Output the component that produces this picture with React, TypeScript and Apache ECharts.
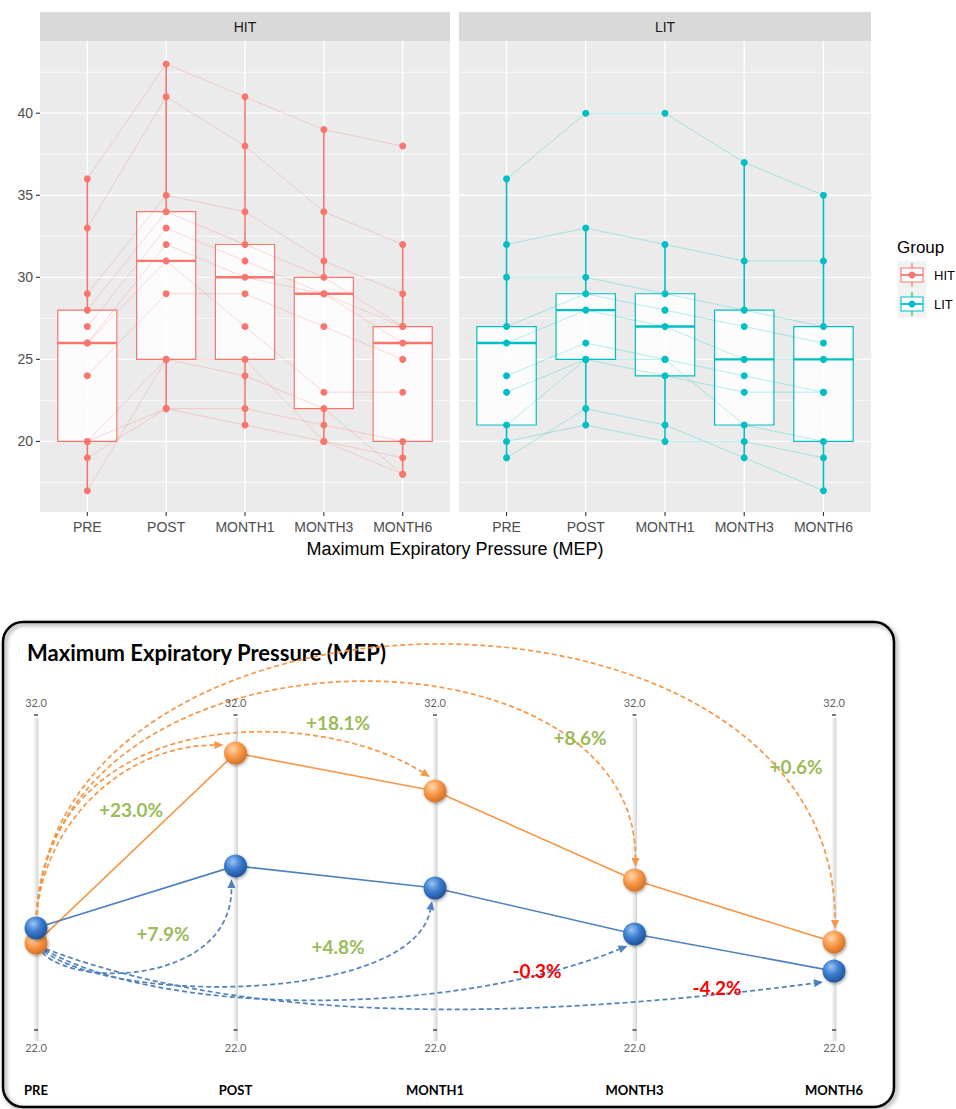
import React, { useEffect, useRef } from 'react';
import * as echarts from 'echarts';

// ---------- data ----------
const timepoints = ['PRE', 'POST', 'MONTH1', 'MONTH3', 'MONTH6'];
const groupNames = ['HIT', 'LIT'];

// individual subject trajectories (MEP at PRE, POST, MONTH1, MONTH3, MONTH6)
const hitSubjects: number[][] = [
  [36, 43, 41, 39, 38],
  [33, 41, 38, 34, 32],
  [29, 35, 34, 31, 29],
  [28, 34, 32, 30, 27],
  [27, 33, 31, 29, 27],
  [26, 32, 30, 29, 26],
  [24, 29, 29, 27, 25],
  [26, 31, 27, 23, 23],
  [20, 22, 22, 21, 20],
  [19, 22, 21, 20, 19],
  [17, 25, 24, 22, 18],
  [20, 25, 25, 20, 18],
];
const litSubjects: number[][] = [
  [36, 40, 40, 37, 35],
  [32, 33, 32, 31, 31],
  [30, 30, 29, 28, 27],
  [27, 29, 28, 27, 26],
  [26, 28, 27, 25, 25],
  [24, 26, 25, 24, 23],
  [23, 25, 24, 23, 23],
  [21, 25, 25, 21, 20],
  [20, 21, 20, 20, 19],
  [19, 22, 21, 19, 17],
];

// box stats: [lower whisker, Q1, median, Q3, upper whisker]
const hitBoxStats: number[][] = [
  [17, 20, 26, 28, 36],
  [22, 25, 31, 34, 43],
  [21, 25, 30, 32, 41],
  [20, 22, 29, 30, 39],
  [18, 20, 26, 27, 32],
];
const litBoxStats: number[][] = [
  [19, 21, 26, 27, 36],
  [21, 25, 28, 29, 33],
  [20, 24, 27, 29, 32],
  [19, 21, 25, 28, 37],
  [17, 20, 25, 27, 35],
];

const yMajor = [20, 25, 30, 35, 40];
const yMinor = [17.5, 22.5, 27.5, 32.5, 37.5, 42.5];
const topRange = [15.7, 44.4];

// group means (bottom panel)
const hitMeans = [24.76, 30.79, 29.59, 26.76, 24.79];
const litMeans = [25.24, 27.21, 26.51, 25.05, 23.87];
const hitChange = ['+23.0%', '+18.1%', '+8.6%', '+0.6%'];
const litChange = ['+7.9%', '+4.8%', '-0.3%', '-4.2%'];
const meanAxisRange = [22, 32];

// ---------- styles ----------
const HIT_COL = '#F8766D';
const LIT_COL = '#00BFC4';
const ORANGE = '#F79646';
const BLUE = '#4F81BD';
const GREEN = '#9BBB59';
const RED = '#FF0000';
const TOP_FONT = '"Liberation Sans", Arial, sans-serif';
const BOT_FONT = 'Lato, "Open Sans", sans-serif';

const changeLabelPos = {
  hit: [[131, 809], [338, 722], [580, 737], [796, 766]],
  lit: [[163, 933], [338, 946], [537, 970], [717, 987]],
};

const arcLayout = {
  hit: {
    start: [0, -12],
    ends: [[-12, -8], [-5, -14], [1, -13], [1, -13]],
    lift: [0, 74, 256, 379],
    a2: [0, 0.3, 0, 0],
  },
  lit: {
    start: [2, 18],
    ends: [[-4, 13], [-3, 13], [-7, 12], [-11, 11]],
    bend: [24, 39, 54, 26],
    a1: [0.1, 0.15, 0.2, 0.25],
    a2: [0, 0.05, 0.3, 0.4],
  },
};

function gridSeries(gi: number, withYTicks: boolean) {
  const data: number[][] = [];
  yMajor.forEach((v) => data.push([0, v]));
  yMinor.forEach((v) => data.push([1, v]));
  timepoints.forEach((_, i) => data.push([2, i]));
  if (withYTicks) yMajor.forEach((v) => data.push([3, v]));
  timepoints.forEach((_, i) => data.push([4, i]));
  return {
    type: 'custom',
    xAxisIndex: gi,
    yAxisIndex: gi,
    silent: true,
    clip: false,
    z: 1,
    data,
    renderItem: (params: any, api: any) => {
      const cs = params.coordSys;
      const k = api.value(0);
      const v = api.value(1);
      if (k === 0 || k === 1) {
        const y = api.coord([0, v])[1];
        return { type: 'line', shape: { x1: cs.x, y1: y, x2: cs.x + cs.width, y2: y }, style: { stroke: '#FFFFFF', lineWidth: k === 0 ? 1.3 : 0.7 } };
      }
      if (k === 2) {
        const x = api.coord([v, 20])[0];
        return { type: 'line', shape: { x1: x, y1: cs.y, x2: x, y2: cs.y + cs.height }, style: { stroke: '#FFFFFF', lineWidth: 1.3 } };
      }
      if (k === 3) {
        const y = api.coord([0, v])[1];
        return { type: 'line', shape: { x1: cs.x - 4, y1: y, x2: cs.x, y2: y }, style: { stroke: '#333333', lineWidth: 1.1 } };
      }
      const x = api.coord([v, 20])[0];
      return { type: 'line', shape: { x1: x, y1: cs.y + cs.height, x2: x, y2: cs.y + cs.height + 4 }, style: { stroke: '#333333', lineWidth: 1.1 } };
    },
  };
}

function boxSeries(gi: number, stats: number[][], color: string) {
  return {
    type: 'custom',
    xAxisIndex: gi,
    yAxisIndex: gi,
    silent: true,
    z: 3,
    data: stats.map((s, i) => [i, ...s]),
    encode: { x: 0, y: [1, 2, 3, 4, 5] },
    renderItem: (params: any, api: any) => {
      const x = api.value(0);
      const c = [1, 2, 3, 4, 5].map((d) => api.coord([x, api.value(d)]));
      const px = c[0][0];
      const half = api.size([0.75, 0])[0] / 2;
      return {
        type: 'group',
        children: [
          { type: 'line', shape: { x1: px, y1: c[0][1], x2: px, y2: c[1][1] }, style: { stroke: color, lineWidth: 1.6 } },
          { type: 'line', shape: { x1: px, y1: c[3][1], x2: px, y2: c[4][1] }, style: { stroke: color, lineWidth: 1.6 } },
          {
            type: 'rect',
            shape: { x: px - half, y: c[3][1], width: half * 2, height: c[1][1] - c[3][1] },
            style: { fill: 'rgba(255,255,255,0.85)', stroke: color, lineWidth: 1.2 },
          },
          { type: 'line', shape: { x1: px - half, y1: c[2][1], x2: px + half, y2: c[2][1] }, style: { stroke: color, lineWidth: 2.4 } },
        ],
      };
    },
  };
}

function subjectLines(gi: number, subjects: number[][], color: string) {
  return subjects.map((s) => ({
    type: 'line',
    xAxisIndex: gi,
    yAxisIndex: gi,
    silent: true,
    showSymbol: false,
    symbol: 'none',
    z: 4,
    lineStyle: { color, width: 0.9, opacity: 0.32 },
    data: s.map((v, i) => [i, v]),
  }));
}

function pointSeries(gi: number, subjects: number[][], color: string) {
  return {
    type: 'scatter',
    xAxisIndex: gi,
    yAxisIndex: gi,
    silent: true,
    z: 5,
    symbolSize: 7,
    itemStyle: { color, opacity: 1 },
    data: subjects.flatMap((s) => s.map((v, i) => [i, v])),
  };
}

function topXAxis(gi: number) {
  return {
    gridIndex: gi,
    type: 'value',
    min: -0.6,
    max: 4.6,
    axisLine: { show: false },
    axisTick: { show: false },
    splitLine: { show: false },
    axisLabel: {
      customValues: [0, 1, 2, 3, 4],
      formatter: (v: number) => (Number.isInteger(v) && timepoints[v] ? timepoints[v] : ''),
      color: '#4D4D4D',
      fontSize: 14,
      fontFamily: TOP_FONT,
      margin: 8,
    },
  };
}

function topYAxis(gi: number, labels: boolean) {
  return {
    gridIndex: gi,
    type: 'value',
    min: topRange[0],
    max: topRange[1],
    axisLine: { show: false },
    axisTick: { show: false },
    splitLine: { show: false },
    axisLabel: {
      show: labels,
      customValues: yMajor,
      formatter: (v: number) => (yMajor.includes(v) ? String(v) : ''),
      color: '#4D4D4D',
      fontSize: 14,
      fontFamily: TOP_FONT,
      margin: 7,
    },
  };
}

function dotStyle(kind: 'o' | 'b') {
  const stops =
    kind === 'o'
      ? [
          { offset: 0, color: '#FFD9B0' },
          { offset: 0.45, color: '#F99A4C' },
          { offset: 1, color: '#D06A1C' },
        ]
      : [
          { offset: 0, color: '#9CC3F2' },
          { offset: 0.45, color: '#3C7ED0' },
          { offset: 1, color: '#1B4C8F' },
        ];
  return {
    color: { type: 'radial', x: 0.38, y: 0.32, r: 0.75, colorStops: stops },
    shadowBlur: 3,
    shadowColor: 'rgba(0,0,0,0.35)',
    shadowOffsetY: 1.5,
    shadowOffsetX: 1,
  };
}

function axisBarSeries() {
  return {
    type: 'custom',
    xAxisIndex: 2,
    yAxisIndex: 2,
    silent: true,
    clip: false,
    z: 1,
    data: timepoints.map((_, i) => [i, meanAxisRange[0]]),
    renderItem: (params: any, api: any) => {
      const i = api.value(0);
      const top = api.coord([i, meanAxisRange[1]]);
      const bot = api.coord([i, meanAxisRange[0]]);
      return {
        type: 'rect',
        shape: { x: top[0] - 2.5, y: top[1] + 3, width: 5, height: bot[1] - top[1] + 8 },
        style: {
          fill: {
            type: 'linear',
            x: 0,
            y: 0,
            x2: 1,
            y2: 0,
            colorStops: [
              { offset: 0, color: '#FBFBFB' },
              { offset: 0.5, color: '#E8E8E8' },
              { offset: 1, color: '#D3D3D3' },
            ],
          },
        },
      };
    },
  };
}

function arcSeries() {
  const data: number[][] = [];
  [0, 1].forEach((g) => [1, 2, 3, 4].forEach((i) => data.push([g, i])));
  return {
    type: 'custom',
    xAxisIndex: 2,
    yAxisIndex: 2,
    silent: true,
    clip: false,
    z: 4,
    data,
    renderItem: (params: any, api: any) => {
      const g = api.value(0);
      const i = api.value(1);
      const means = g === 0 ? hitMeans : litMeans;
      const a = api.coord([0, means[0]]);
      const b = api.coord([i, means[i]]);
      const L: any = g === 0 ? arcLayout.hit : arcLayout.lit;
      const s = [a[0] + L.start[0], a[1] + L.start[1]];
      const e = [b[0] + L.ends[i - 1][0], b[1] + L.ends[i - 1][1]];
      const dx = e[0] - s[0];
      let c1: number[];
      let c2: number[];
      if (g === 0) {
        if (i === 1) {
          c1 = [s[0], s[1] - 0.55 * (s[1] - e[1])];
          c2 = [e[0] - 0.55 * dx, e[1]];
        } else {
          const yc = Math.min(s[1], e[1]) - L.lift[i - 1];
          c1 = [s[0], yc];
          c2 = [e[0] - L.a2[i - 1] * dx, yc];
        }
      } else {
        const dip = Math.max(s[1], e[1]) + L.bend[i - 1];
        const yd = (8 * dip - s[1] - e[1]) / 6;
        c1 = [s[0] + L.a1[i - 1] * dx, yd];
        c2 = [e[0] - L.a2[i - 1] * dx, yd];
      }
      let ux = e[0] - c2[0];
      let uy = e[1] - c2[1];
      const len = Math.hypot(ux, uy) || 1;
      ux /= len;
      uy /= len;
      const al = 9;
      const aw = 4;
      const base = [e[0] - ux * al, e[1] - uy * al];
      const pts = [e, [base[0] - uy * aw, base[1] + ux * aw], [base[0] + uy * aw, base[1] - ux * aw]];
      const color = g === 0 ? ORANGE : BLUE;
      return {
        type: 'group',
        children: [
          {
            type: 'bezierCurve',
            shape: { x1: s[0], y1: s[1], x2: base[0], y2: base[1], cpx1: c1[0], cpy1: c1[1], cpx2: c2[0], cpy2: c2[1] },
            style: { stroke: color, lineWidth: 1.7, lineDash: [5, 3], fill: null },
          },
          { type: 'polygon', shape: { points: pts }, style: { fill: color } },
        ],
      };
    },
  };
}

function buildOption() {
  const graphic: any[] = [];
  // frame of bottom panel
  graphic.push({
    type: 'rect',
    z: -1,
    shape: { x: 3, y: 622, width: 891, height: 485, r: 20 },
    style: { fill: 'none', stroke: '#000', lineWidth: 2.5, shadowBlur: 4, shadowColor: 'rgba(0,0,0,0.45)', shadowOffsetX: 2, shadowOffsetY: 2 },
  });
  // facet strips
  [[40, 410], [459, 412]].forEach(([x, w], gi) => {
    graphic.push({ type: 'rect', shape: { x, y: 12, width: w, height: 29 }, style: { fill: '#D9D9D9' } });
    graphic.push({
      type: 'text',
      x: x + w / 2,
      y: 27,
      style: { text: groupNames[gi], font: `14px ${TOP_FONT}`, fill: '#1A1A1A', align: 'center', verticalAlign: 'middle' },
    });
  });
  // axis title
  graphic.push({
    type: 'text',
    x: 455,
    y: 549,
    style: { text: 'Maximum Expiratory Pressure (MEP)', font: `18px ${TOP_FONT}`, fill: '#000', align: 'center', verticalAlign: 'middle' },
  });
  // legend
  graphic.push({ type: 'text', x: 897, y: 247, style: { text: 'Group', font: `17px ${TOP_FONT}`, fill: '#000', verticalAlign: 'middle' } });
  graphic.push({ type: 'rect', shape: { x: 898, y: 261, width: 28, height: 57 }, style: { fill: '#F2F2F2' } });
  [HIT_COL, LIT_COL].forEach((col, gi) => {
    const cy = 275 + gi * 29;
    graphic.push({ type: 'line', shape: { x1: 912, y1: cy - 12, x2: 912, y2: cy + 12 }, style: { stroke: col, lineWidth: 1.2 } });
    graphic.push({ type: 'rect', shape: { x: 901, y: cy - 7, width: 22, height: 14 }, style: { fill: '#FFFFFF', stroke: col, lineWidth: 1.1 } });
    graphic.push({ type: 'line', shape: { x1: 901, y1: cy, x2: 923, y2: cy }, style: { stroke: col, lineWidth: 1.8 } });
    graphic.push({ type: 'circle', shape: { cx: 912, cy, r: 3.5 }, style: { fill: col } });
    graphic.push({ type: 'text', x: 934, y: cy, style: { text: groupNames[gi], font: `13px ${TOP_FONT}`, fill: '#000', verticalAlign: 'middle' } });
  });
  // bottom title
  graphic.push({
    type: 'text',
    x: 27,
    y: 652,
    style: { text: 'Maximum Expiratory Pressure (MEP)', font: `bold 22px ${BOT_FONT}`, fill: '#000', verticalAlign: 'middle' },
  });
  // change labels
  const pushChange = (t: string, x: number, y: number) =>
    graphic.push({
      type: 'text',
      x,
      y,
      z: 10,
      style: { text: t, font: `bold 19px ${BOT_FONT}`, fill: t.startsWith('-') ? RED : GREEN, align: 'center', verticalAlign: 'middle' },
    });
  hitChange.forEach((t, i) => pushChange(t, changeLabelPos.hit[i][0], changeLabelPos.hit[i][1]));
  litChange.forEach((t, i) => pushChange(t, changeLabelPos.lit[i][0], changeLabelPos.lit[i][1]));

  const endLabel = (v: number, pos: 'top' | 'bottom', dist: number) => ({
    type: 'scatter',
    xAxisIndex: 2,
    yAxisIndex: 2,
    silent: true,
    z: 6,
    symbol: 'rect',
    symbolSize: [4, 1.5],
    itemStyle: { color: '#222' },
    label: {
      show: true,
      position: pos,
      distance: dist,
      formatter: () => v.toFixed(1),
      fontSize: 11,
      fontFamily: BOT_FONT,
      color: '#333333',
    },
    data: timepoints.map((_, i) => [i, v]),
  });

  return {
    animation: false,
    textStyle: { fontFamily: TOP_FONT },
    grid: [
      { left: 40, top: 41, width: 410, height: 471, show: true, backgroundColor: '#EBEBEB', borderWidth: 0 },
      { left: 459, top: 41, width: 412, height: 471, show: true, backgroundColor: '#EBEBEB', borderWidth: 0 },
      { left: 36, top: 715, width: 798, height: 315 },
    ],
    xAxis: [
      topXAxis(0),
      topXAxis(1),
      {
        gridIndex: 2,
        type: 'value',
        min: 0,
        max: 4,
        interval: 1,
        axisLine: { show: false },
        axisTick: { show: false },
        splitLine: { show: false },
        axisLabel: {
          formatter: (v: number) => timepoints[v] ?? '',
          fontFamily: BOT_FONT,
          fontWeight: 'bold',
          fontSize: 13,
          color: '#000',
          margin: 53,
        },
      },
    ],
    yAxis: [
      topYAxis(0, true),
      topYAxis(1, false),
      { gridIndex: 2, type: 'value', min: meanAxisRange[0], max: meanAxisRange[1], show: false },
    ],
    graphic,
    series: [
      gridSeries(0, true),
      gridSeries(1, false),
      boxSeries(0, hitBoxStats, HIT_COL),
      boxSeries(1, litBoxStats, LIT_COL),
      ...subjectLines(0, hitSubjects, HIT_COL),
      ...subjectLines(1, litSubjects, LIT_COL),
      pointSeries(0, hitSubjects, HIT_COL),
      pointSeries(1, litSubjects, LIT_COL),
      axisBarSeries(),
      endLabel(meanAxisRange[1], 'top', 6),
      endLabel(meanAxisRange[0], 'bottom', 11),
      arcSeries(),
      {
        type: 'line',
        name: 'HIT mean',
        xAxisIndex: 2,
        yAxisIndex: 2,
        silent: true,
        z: 7,
        symbol: 'circle',
        symbolSize: 23,
        lineStyle: { color: ORANGE, width: 1.6 },
        itemStyle: dotStyle('o'),
        data: hitMeans.map((v, i) => [i, v]),
      },
      {
        type: 'line',
        name: 'LIT mean',
        xAxisIndex: 2,
        yAxisIndex: 2,
        silent: true,
        z: 8,
        symbol: 'circle',
        symbolSize: 23,
        lineStyle: { color: BLUE, width: 1.6 },
        itemStyle: dotStyle('b'),
        data: litMeans.map((v, i) => [i, v]),
      },
    ],
  };
}

export default function App() {
  const ref = useRef<HTMLDivElement>(null);
  useEffect(() => {
    if (!ref.current) return;
    const chart = echarts.init(ref.current, null, { renderer: 'svg' });
    chart.setOption(buildOption() as any);
    return () => chart.dispose();
  }, []);
  return <div ref={ref} style={{ position: 'absolute', left: 0, top: 0, width: 956, height: 1109 }} />;
}
